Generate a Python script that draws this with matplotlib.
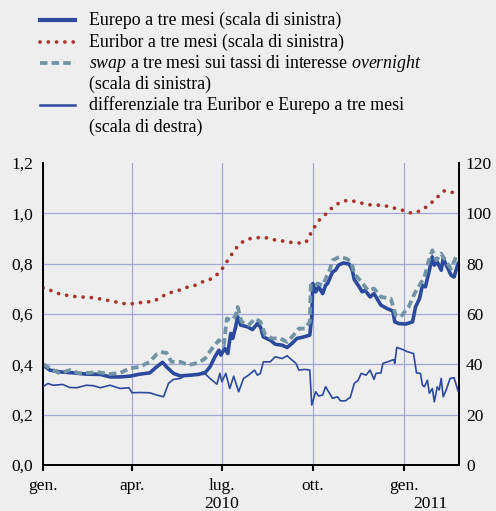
import matplotlib
matplotlib.use('Agg')
import matplotlib.pyplot as plt
import matplotlib.transforms as mtransforms
from matplotlib.lines import Line2D
import pandas as pd

plt.rcParams['font.family'] = ['Liberation Serif', 'DejaVu Serif']
plt.rcParams['mathtext.fontset'] = 'custom'
plt.rcParams['mathtext.rm'] = 'Liberation Serif'
plt.rcParams['mathtext.it'] = 'Liberation Serif:italic'

# Euribor a tre mesi, dati settimanali (scala di sinistra)
euribor_dates = pd.date_range('2010-01-01', periods=61, freq='7D')
euribor = [0.704, 0.695, 0.683, 0.676, 0.672, 0.668, 0.667, 0.665, 0.661, 0.656,
           0.651, 0.645, 0.640, 0.641, 0.645, 0.648, 0.650, 0.666, 0.682, 0.689,
           0.697, 0.708, 0.714, 0.727, 0.735, 0.752, 0.783, 0.826, 0.864, 0.890,
           0.900, 0.903, 0.905, 0.897, 0.892, 0.889, 0.884, 0.882, 0.884, 0.935,
           0.975, 1.000, 1.028, 1.044, 1.052, 1.048, 1.041, 1.034, 1.033, 1.032,
           1.027, 1.019, 1.012, 1.002, 1.004, 1.017, 1.038, 1.064, 1.089, 1.082,
           1.091]

# Eurepo a tre mesi (scala di sinistra)
eurepo_dates = ['2010-01-01', '2010-01-08', '2010-01-18', '2010-02-01', '2010-02-14',
                '2010-02-28', '2010-03-10', '2010-03-20', '2010-03-30', '2010-04-09',
                '2010-04-19', '2010-04-26', '2010-05-02', '2010-05-06', '2010-05-13',
                '2010-05-20', '2010-05-30', '2010-06-07', '2010-06-14', '2010-06-19',
                '2010-06-24', '2010-06-28', '2010-06-30', '2010-07-04', '2010-07-07',
                '2010-07-10', '2010-07-12', '2010-07-15', '2010-07-17', '2010-07-20',
                '2010-07-27', '2010-08-01', '2010-08-06', '2010-08-09', '2010-08-12',
                '2010-08-19', '2010-08-24', '2010-08-31', '2010-09-05', '2010-09-10',
                '2010-09-15', '2010-09-22', '2010-09-28', '2010-09-30', '2010-10-01',
                '2010-10-04', '2010-10-07', '2010-10-11', '2010-10-14', '2010-10-16',
                '2010-10-21', '2010-10-24', '2010-10-27', '2010-11-01', '2010-11-07',
                '2010-11-10', '2010-11-12', '2010-11-17', '2010-11-20', '2010-11-23',
                '2010-11-28', '2010-12-02', '2010-12-09', '2010-12-15', '2010-12-21',
                '2010-12-23', '2010-12-27', '2011-01-03', '2011-01-10', '2011-01-13',
                '2011-01-17', '2011-01-20', '2011-01-23', '2011-01-27', '2011-01-30',
                '2011-02-01', '2011-02-04', '2011-02-08', '2011-02-10', '2011-02-14',
                '2011-02-18', '2011-02-21', '2011-02-25']
eurepo = [0.397, 0.377, 0.370, 0.366, 0.361, 0.360, 0.350, 0.350, 0.353, 0.361,
          0.366, 0.390, 0.408, 0.390, 0.364, 0.354, 0.357, 0.360, 0.366, 0.390,
          0.430, 0.456, 0.437, 0.463, 0.443, 0.523, 0.503, 0.549, 0.589, 0.556,
          0.549, 0.538, 0.562, 0.549, 0.509, 0.496, 0.480, 0.476, 0.467, 0.483,
          0.503, 0.509, 0.516, 0.589, 0.721, 0.688, 0.708, 0.681, 0.714, 0.721,
          0.767, 0.774, 0.794, 0.803, 0.798, 0.774, 0.737, 0.708, 0.688, 0.694,
          0.668, 0.681, 0.635, 0.622, 0.612, 0.569, 0.562, 0.560, 0.569, 0.628,
          0.661, 0.714, 0.708, 0.774, 0.827, 0.794, 0.807, 0.774, 0.820, 0.787,
          0.754, 0.747, 0.800]

# swap a tre mesi sui tassi overnight (scala di sinistra)
swap_dates = ['2010-01-01', '2010-01-08', '2010-01-18', '2010-01-28', '2010-02-07',
              '2010-02-17', '2010-02-25', '2010-03-08', '2010-03-20', '2010-03-30',
              '2010-04-09', '2010-04-19', '2010-04-26', '2010-04-30', '2010-05-06',
              '2010-05-11', '2010-05-20', '2010-05-28', '2010-06-07', '2010-06-14',
              '2010-06-21', '2010-06-28', '2010-07-03', '2010-07-06', '2010-07-11',
              '2010-07-15', '2010-07-17', '2010-07-21', '2010-07-28', '2010-08-04',
              '2010-08-09', '2010-08-14', '2010-08-21', '2010-08-29', '2010-09-05',
              '2010-09-10', '2010-09-17', '2010-09-23', '2010-09-28', '2010-09-29',
              '2010-10-02', '2010-10-06', '2010-10-11', '2010-10-18', '2010-10-21',
              '2010-10-28', '2010-11-04', '2010-11-09', '2010-11-12', '2010-11-19',
              '2010-11-26', '2010-12-02', '2010-12-09', '2010-12-19', '2010-12-24',
              '2010-12-29', '2011-01-06', '2011-01-12', '2011-01-17', '2011-01-22',
              '2011-01-26', '2011-01-30', '2011-02-03', '2011-02-08', '2011-02-13',
              '2011-02-18', '2011-02-23', '2011-02-26']
swap = [0.401, 0.384, 0.364, 0.377, 0.364, 0.366, 0.370, 0.361, 0.366, 0.384,
        0.390, 0.410, 0.440, 0.448, 0.446, 0.410, 0.410, 0.397, 0.406, 0.423,
        0.463, 0.496, 0.476, 0.582, 0.575, 0.595, 0.628, 0.569, 0.556, 0.582,
        0.569, 0.516, 0.503, 0.503, 0.489, 0.509, 0.542, 0.542, 0.569, 0.714,
        0.708, 0.721, 0.714, 0.774, 0.813, 0.827, 0.820, 0.807, 0.761, 0.728,
        0.694, 0.701, 0.668, 0.661, 0.595, 0.589, 0.628, 0.681, 0.714, 0.747,
        0.807, 0.853, 0.813, 0.840, 0.807, 0.780, 0.827, 0.813]

# differenziale tra Euribor e Eurepo, punti base (scala di destra)
diff_dates = ['2010-01-01', '2010-01-06', '2010-01-11', '2010-01-21', '2010-01-28',
              '2010-02-04', '2010-02-14', '2010-02-21', '2010-02-28', '2010-03-10',
              '2010-03-20', '2010-03-29', '2010-04-01', '2010-04-09', '2010-04-19',
              '2010-04-26', '2010-05-03', '2010-05-08', '2010-05-13', '2010-05-20',
              '2010-05-25', '2010-06-07', '2010-06-12', '2010-06-19', '2010-06-26',
              '2010-06-29', '2010-07-01', '2010-07-05', '2010-07-09', '2010-07-13',
              '2010-07-18', '2010-07-23', '2010-07-28', '2010-08-03', '2010-08-06',
              '2010-08-09', '2010-08-12', '2010-08-19', '2010-08-24', '2010-08-31',
              '2010-09-05', '2010-09-10', '2010-09-14', '2010-09-17', '2010-09-23',
              '2010-09-28', '2010-09-30', '2010-10-04', '2010-10-07', '2010-10-11',
              '2010-10-14', '2010-10-21', '2010-10-26', '2010-10-29', '2010-11-03',
              '2010-11-08', '2010-11-12', '2010-11-16', '2010-11-19', '2010-11-24',
              '2010-11-28', '2010-12-02', '2010-12-04', '2010-12-09', '2010-12-11',
              '2010-12-16', '2010-12-22', '2010-12-23', '2010-12-25', '2010-12-31',
              '2011-01-05', '2011-01-11', '2011-01-14', '2011-01-18', '2011-01-20',
              '2011-01-22', '2011-01-25', '2011-01-27', '2011-01-30', '2011-02-01',
              '2011-02-04', '2011-02-06', '2011-02-08', '2011-02-10', '2011-02-13',
              '2011-02-17', '2011-02-21', '2011-02-25']
diff = [31.1, 32.4, 31.7, 32.0, 30.8, 30.7, 31.7, 31.5, 30.7, 31.7,
        30.4, 30.7, 28.7, 28.8, 28.7, 27.8, 27.1, 32.4, 34.0, 34.4,
        35.7, 36.0, 37.0, 34.4, 32.1, 36.4, 33.1, 36.4, 30.4, 35.3,
        29.1, 34.4, 35.7, 37.7, 35.7, 36.4, 41.0, 41.0, 43.0, 42.3,
        43.4, 41.7, 40.4, 37.7, 38.0, 37.7, 23.8, 29.1, 27.4, 27.8,
        31.1, 26.5, 27.1, 25.5, 25.5, 26.9, 32.4, 33.7, 36.4, 35.7,
        37.7, 34.0, 36.4, 36.6, 40.4, 41.0, 41.9, 40.4, 46.7, 45.9,
        45.0, 44.3, 36.6, 36.4, 31.7, 31.1, 33.7, 28.5, 30.4, 25.1,
        31.1, 29.8, 34.4, 27.1, 29.8, 34.4, 34.7, 29.4]

left_ticks = [0.0, 0.2, 0.4, 0.6, 0.8, 1.0, 1.2]
right_ticks = [0, 20, 40, 60, 80, 100, 120]
month_ticks = ['2010-01-01', '2010-04-01', '2010-07-01', '2010-10-01', '2011-01-01']
month_labels = ['gen.', 'apr.', 'lug.', 'ott.', 'gen.']

bg = '#eeeeee'
blue = '#2b4a9e'
red = '#a8332b'
teal = '#7094a3'
gridc = '#a3a6da'
dots = (0, (0.01, 2.2))
dashes = (0, (2.0, 1.1))

W, H = 496, 511
fig = plt.figure(figsize=(W / 100, H / 100), dpi=100, facecolor=bg)
ax = fig.add_axes([43 / W, 46 / H, 416 / W, 302 / H])
ax.set_facecolor(bg)

ax.plot(pd.to_datetime(eurepo_dates), eurepo, color=blue, lw=2.6, zorder=3,
        solid_joinstyle='round')
ax.plot(euribor_dates, euribor, color=red, lw=2.7, linestyle=dots,
        dash_capstyle='round', zorder=3)
ax.plot(pd.to_datetime(swap_dates), swap, color=teal, lw=2.7,
        linestyle=dashes, zorder=4)

ax2 = ax.twinx()
ax2.plot(pd.to_datetime(diff_dates), diff, color=blue, lw=1.2, zorder=5)

ax.set_xlim(pd.Timestamp('2010-01-01'), pd.Timestamp('2011-02-26'))
ax.set_ylim(0, 1.2)
ax2.set_ylim(0, 120)

ax.set_yticks(left_ticks)
ax.set_yticklabels([('%.1f' % t).replace('.', ',') for t in left_ticks])
ax2.set_yticks(right_ticks)
ax2.set_yticklabels([str(t) for t in right_ticks])
ax.set_xticks(pd.to_datetime(month_ticks))
ax.set_xticklabels(month_labels)

ax.grid(True, color=gridc, lw=0.9)
ax.yaxis.get_gridlines()[-1].set_visible(False)
ax.set_axisbelow(True)

for a in (ax, ax2):
    a.spines['top'].set_visible(False)
    for s in ('left', 'right', 'bottom'):
        a.spines[s].set_color('black')
        a.spines[s].set_linewidth(1.3)
ax.tick_params(axis='y', length=0, pad=7, labelsize=12.5)
ax2.tick_params(axis='y', length=0, pad=5, labelsize=12.5)
ax.tick_params(axis='x', direction='out', length=4, width=1.5, pad=5,
               labelsize=12.5)

trans = mtransforms.blended_transform_factory(ax.transData, fig.transFigure)
ax.text(pd.Timestamp('2010-07-01'), 1 - 504 / H, '2010', ha='center',
        va='center', fontsize=12.5, transform=trans)
ax.text(pd.Timestamp('2011-01-28'), 1 - 504 / H, '2011', ha='center',
        va='center', fontsize=12.5, transform=trans)

# legenda
def handle(y, **kw):
    fig.add_artist(Line2D([40 / W, 75 / W], [1 - y / H, 1 - y / H],
                          transform=fig.transFigure, **kw))

def label(y, s):
    fig.text(89 / W, 1 - y / H, s, ha='left', va='center', fontsize=12.9)

handle(20, color=blue, lw=3.0)
label(20, 'Eurepo a tre mesi (scala di sinistra)')
handle(42, color=red, lw=2.7, linestyle=dots, dash_capstyle='round')
label(42, 'Euribor a tre mesi (scala di sinistra)')
handle(63, color=teal, lw=2.7, linestyle=dashes)
label(63, r'$\mathit{swap}$ a tre mesi sui tassi di interesse $\mathit{overnight}$')
label(84, '(scala di sinistra)')
handle(105, color=blue, lw=1.8)
label(105, 'differenziale tra Euribor e Eurepo a tre mesi')
label(127, '(scala di destra)')

fig.savefig('out.png', dpi=100, facecolor=bg)
